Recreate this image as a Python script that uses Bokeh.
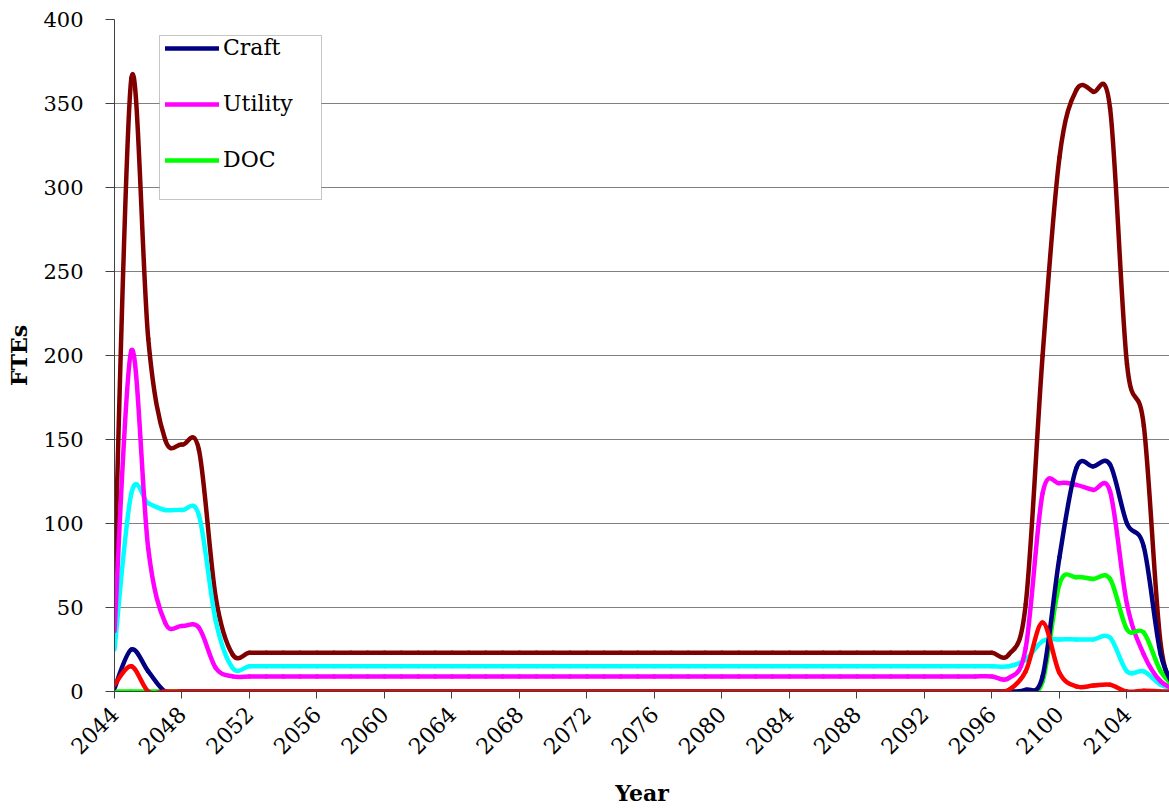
import math
import numpy as np
from bokeh.plotting import figure
from bokeh.models import (Range1d, FixedTicker, Legend, LegendItem, BoxAnnotation)
from bokeh.embed import file_html
from bokeh.resources import INLINE

years = list(range(2044, 2108))

craft = [2, 25, 12, 0, 0, 0, 0, 0,
         0, 0, 0, 0, 0, 0, 0, 0, 0, 0, 0, 0, 0, 0, 0, 0,
         0, 0, 0, 0, 0, 0, 0, 0, 0, 0, 0, 0, 0, 0, 0, 0,
         0, 0, 0, 0, 0, 0, 0, 0, 0, 0, 0, 0, 0,
         0, 1, 9, 80, 133, 134, 135, 100, 86, 22, 0]

utility = [36, 203, 85, 41, 39, 38, 14, 9,
           9, 9, 9, 9, 9, 9, 9, 9, 9, 9, 9, 9, 9, 9, 9, 9,
           9, 9, 9, 9, 9, 9, 9, 9, 9, 9, 9, 9, 9, 9, 9, 9,
           9, 9, 9, 9, 9, 9, 9, 9, 9, 9, 9, 9, 9,
           8, 26, 118, 124, 123, 120, 119, 52, 22, 6, 1]

doc = [0, 0, 0, 0, 0, 0, 0, 0,
       0, 0, 0, 0, 0, 0, 0, 0, 0, 0, 0, 0, 0, 0, 0, 0,
       0, 0, 0, 0, 0, 0, 0, 0, 0, 0, 0, 0, 0, 0, 0, 0,
       0, 0, 0, 0, 0, 0, 0, 0, 0, 0, 0, 0, 0,
       0, 0, 6, 64, 68, 67, 67, 37, 35, 12, 1]

cyan_series = [25, 118, 112, 108, 108, 105, 42, 14,
               15, 15, 15, 15, 15, 15, 15, 15, 15, 15, 15, 15, 15, 15, 15, 15,
               15, 15, 15, 15, 15, 15, 15, 15, 15, 15, 15, 15, 15, 15, 15, 15,
               15, 15, 15, 15, 15, 15, 15, 15, 15, 15, 15, 15, 15,
               15, 19, 30, 31, 31, 31, 32, 12, 12, 4, 1]

red_series = [4, 15, 0, 0, 0, 0, 0, 0,
              0, 0, 0, 0, 0, 0, 0, 0, 0, 0, 0, 0, 0, 0, 0, 0,
              0, 0, 0, 0, 0, 0, 0, 0, 0, 0, 0, 0, 0, 0, 0, 0,
              0, 0, 0, 0, 0, 0, 0, 0, 0, 0, 0, 0, 0,
              1, 12, 41, 11, 3, 3.5, 4, 0, 0.5, 0, 0]

total = [68, 365, 210, 150, 147, 144, 56, 22,
         23, 23, 23, 23, 23, 23, 23, 23, 23, 23, 23, 23, 23, 23, 23, 23,
         23, 23, 23, 23, 23, 23, 23, 23, 23, 23, 23, 23, 23, 23, 23, 23,
         23, 23, 23, 23, 23, 23, 23, 23, 23, 23, 23, 23, 23,
         22, 52, 200, 318, 358, 357, 347, 195, 158, 28, 1]

x_ticks = list(range(2044, 2107, 4))
y_ticks = list(range(0, 401, 50))

FONT = "DejaVu Serif"

p = figure(width=1169, height=810, output_backend="svg", toolbar_location=None,
           x_range=Range1d(2044, 2106.52), y_range=Range1d(0, 400),
           min_border_left=114, min_border_right=0, min_border_top=19,
           min_border_bottom=119)
p.outline_line_color = None
p.background_fill_color = "white"
p.border_fill_color = "white"


def smooth_segments(xs, ys):
    xs = np.asarray(xs, dtype=float)
    ys = np.asarray(ys, dtype=float)
    n = len(xs)
    xp = np.concatenate([[xs[0]], xs, [xs[-1]]])
    yp = np.concatenate([[ys[0]], ys, [ys[-1]]])
    i = np.arange(n - 1)
    x0, y0 = xs[:-1], ys[:-1]
    x1, y1 = xs[1:], ys[1:]
    cx0 = x0 + (xp[i + 2] - xp[i]) / 6.0
    cy0 = y0 + (yp[i + 2] - yp[i]) / 6.0
    cx1 = x1 - (xp[i + 3] - xp[i + 1]) / 6.0
    cy1 = y1 - (yp[i + 3] - yp[i + 1]) / 6.0
    return dict(x0=x0, y0=y0, x1=x1, y1=y1, cx0=cx0, cy0=cy0, cx1=cx1, cy1=cy1)


def draw(series, color):
    s = smooth_segments(years, series)
    return p.bezier(x0=s["x0"], y0=s["y0"], x1=s["x1"], y1=s["y1"],
                    cx0=s["cx0"], cy0=s["cy0"], cx1=s["cx1"], cy1=s["cy1"],
                    line_color=color, line_width=4.5, line_cap="round", line_join="round")


r_total = draw(total, "#800000")
r_cyan = draw(cyan_series, "#00FFFF")
r_util = draw(utility, "#FF00FF")
r_doc = draw(doc, "#00FF00")
r_craft = draw(craft, "#000080")
r_red = draw(red_series, "#FF0000")

# axes
p.xaxis.ticker = FixedTicker(ticks=x_ticks)
p.yaxis.ticker = FixedTicker(ticks=y_ticks)
p.xgrid.visible = False
p.ygrid.grid_line_color = "#808080"
p.ygrid.grid_line_width = 1

for ax in (p.xaxis[0], p.yaxis[0]):
    ax.axis_line_color = "#404040"
    ax.axis_line_width = 1
    ax.major_tick_line_color = "#404040"
    ax.minor_tick_line_color = None
    ax.major_tick_in = 0
    ax.major_label_text_font = FONT
    ax.major_label_text_font_size = "21px"
    ax.major_label_text_color = "black"
    ax.axis_label_text_font = FONT
    ax.axis_label_text_font_style = "bold"
    ax.axis_label_text_font_size = "22px"
    ax.axis_label_text_color = "black"

p.yaxis.major_tick_out = 9
p.yaxis.major_label_standoff = 22
p.yaxis.axis_label = "FTEs"
p.yaxis.axis_label_standoff = 8

p.xaxis.major_tick_out = 7
p.xaxis.major_label_orientation = math.pi / 4
p.xaxis.major_label_text_font_size = "22px"
p.xaxis.major_label_standoff = 12
p.xaxis.axis_label = "Year"
p.xaxis.axis_label_standoff = 16

# legend frame (screen units relative to plot frame)
box = BoxAnnotation(left=45, right=207, bottom=492, top=656,
                    left_units="screen", right_units="screen",
                    bottom_units="screen", top_units="screen",
                    fill_color="white", fill_alpha=1.0,
                    line_color="#404040", line_width=1)
p.add_layout(box)

legend = Legend(items=[LegendItem(label="Craft", renderers=[r_craft]),
                       LegendItem(label="Utility", renderers=[r_util]),
                       LegendItem(label="DOC", renderers=[r_doc])],
                location=(51, 519), orientation="vertical",
                border_line_color=None, background_fill_alpha=0,
                label_text_font=FONT, label_text_font_size="22px",
                label_text_color="black",
                glyph_width=54, glyph_height=20, label_height=20,
                spacing=31, padding=0, margin=0, label_standoff=4)
p.add_layout(legend)

open("out.html", "w").write(file_html(p, INLINE))
